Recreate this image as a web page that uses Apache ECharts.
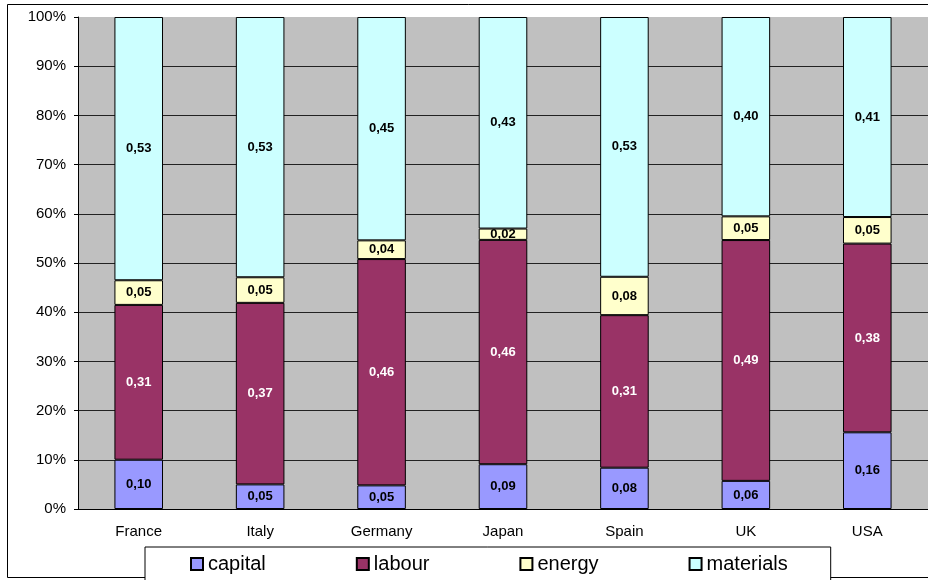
<!DOCTYPE html>
<html>
<head>
<meta charset="utf-8">
<script src="https://cdn.jsdelivr.net/npm/echarts@6/dist/echarts.min.js"></script>
<style>
  html, body { margin: 0; padding: 0; background: #fff; }
  #chart { width: 928px; height: 580px; }
</style>
</head>
<body>
<div id="chart"></div>
<script>
const countries = ["France", "Italy", "Germany", "Japan", "Spain", "UK", "USA"];
const capital = [0.100, 0.050, 0.048, 0.091, 0.084, 0.057, 0.156];
const labour = [0.314, 0.369, 0.460, 0.456, 0.310, 0.488, 0.384];
const energy = [0.050, 0.052, 0.038, 0.023, 0.078, 0.048, 0.054];
const materials = [0.534, 0.529, 0.454, 0.430, 0.528, 0.404, 0.407];
const yTicks = [0, 10, 20, 30, 40, 50, 60, 70, 80, 90, 100];

const parts = [
  { name: "capital", raw: capital, color: "#9999ff", text: "#000" },
  { name: "labour", raw: labour, color: "#993366", text: "#fff" },
  { name: "energy", raw: energy, color: "#ffffcc", text: "#000" },
  { name: "materials", raw: materials, color: "#ccffff", text: "#000" }
];

// 100% stacked: share of each part in the country total
const totals = countries.map((c, i) => parts.reduce((s, p) => s + p.raw[i], 0));

const chart = echarts.init(document.getElementById("chart"));
const font = "Arial, 'Liberation Sans', sans-serif";

const option = {
  animation: false,
  backgroundColor: "#fff",
  textStyle: { fontFamily: font },
  graphic: [{
    type: "rect",
    shape: { x: 7.5, y: 4.5, width: 960, height: 573 },
    style: { fill: "none", stroke: "#000", lineWidth: 1 },
    z: -1
  }],
  grid: { left: 78, top: 17, right: -11, bottom: 71, show: true, backgroundColor: "#c0c0c0", borderWidth: 0 },
  legend: {
    left: 145,
    top: 547,
    padding: [7, 43, 8, 45],
    backgroundColor: "#fff",
    borderColor: "#000",
    borderWidth: 1,
    itemWidth: 12,
    itemHeight: 12,
    itemGap: 90,
    icon: "rect",
    textStyle: { fontSize: 20, color: "#000", fontFamily: font },
    data: parts.map(p => p.name)
  },
  xAxis: {
    type: "category",
    data: countries,
    axisLine: { lineStyle: { color: "#000" } },
    axisTick: { length: 4, lineStyle: { color: "#000" } },
    axisLabel: { fontSize: 15, color: "#000", margin: 15 }
  },
  yAxis: {
    type: "value",
    min: 0,
    max: 100,
    interval: 10,
    axisLine: { show: true, lineStyle: { color: "#000" } },
    axisTick: { show: true, length: 4, lineStyle: { color: "#000" } },
    axisLabel: { fontSize: 15, color: "#000", margin: 12, formatter: v => yTicks.includes(v) ? v + "%" : "" },
    splitLine: {
      lineStyle: {
        color: ["#000", "#222", "#222", "#222", "#222", "#222", "#222", "#222", "#222", "#222", "#c0c0c0"],
        width: 1
      }
    }
  },
  series: parts.map(p => ({
    name: p.name,
    type: "bar",
    stack: "total",
    barWidth: "40%",
    data: p.raw.map((v, i) => ({ value: v / totals[i] * 100, raw: v })),
    itemStyle: { color: p.color, borderColor: "#000", borderWidth: 1 },
    label: {
      show: true,
      position: "inside",
      fontSize: 13,
      fontWeight: "bold",
      color: p.text,
      fontFamily: font,
      formatter: d => d.data.raw.toFixed(2).replace(".", ",")
    }
  }))
};

chart.setOption(option);
</script>
</body>
</html>
